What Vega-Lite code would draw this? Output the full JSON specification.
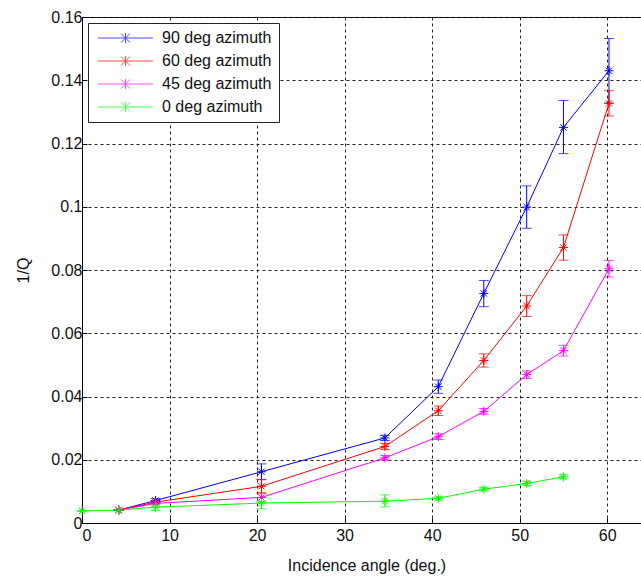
{
  "$schema": "https://vega.github.io/schema/vega-lite/v6.json",
  "autosize": {"type": "none"},
  "padding": {"left": 82, "top": 17, "right": 0, "bottom": 53},
  "width": 569,
  "height": 506,
  "background": "white",
  "config": {
    "font": "Liberation Sans",
    "view": {"stroke": "black", "strokeWidth": 1},
    "axis": {
      "domainColor": "black",
      "tickColor": "black",
      "labelColor": "#111111",
      "titleColor": "#111111",
      "labelFont": "Liberation Sans",
      "titleFont": "Liberation Sans",
      "labelFontSize": 16,
      "titleFontSize": 16,
      "titleFontWeight": "normal",
      "gridColor": "#222222",
      "gridDash": [3, 3],
      "gridOpacity": 1,
      "tickSize": -5
    }
  },
  "data": {
    "values": [
      {"series": "90 deg azimuth", "angle": 4.2, "q": 0.0041, "lo": 0.0041, "hi": 0.0041},
      {"series": "90 deg azimuth", "angle": 8.4, "q": 0.0071, "lo": 0.0065, "hi": 0.0077},
      {"series": "90 deg azimuth", "angle": 20.5, "q": 0.0162, "lo": 0.0138, "hi": 0.0187},
      {"series": "90 deg azimuth", "angle": 34.6, "q": 0.0269, "lo": 0.0261, "hi": 0.0277},
      {"series": "90 deg azimuth", "angle": 40.7, "q": 0.0431, "lo": 0.0410, "hi": 0.0452},
      {"series": "90 deg azimuth", "angle": 45.9, "q": 0.0726, "lo": 0.0684, "hi": 0.0767},
      {"series": "90 deg azimuth", "angle": 50.8, "q": 0.0999, "lo": 0.0932, "hi": 0.1066},
      {"series": "90 deg azimuth", "angle": 55.0, "q": 0.1251, "lo": 0.1168, "hi": 0.1336},
      {"series": "90 deg azimuth", "angle": 60.2, "q": 0.1430, "lo": 0.1328, "hi": 0.1532},
      {"series": "60 deg azimuth", "angle": 4.2, "q": 0.0041, "lo": 0.0041, "hi": 0.0041},
      {"series": "60 deg azimuth", "angle": 8.4, "q": 0.0066, "lo": 0.0061, "hi": 0.0071},
      {"series": "60 deg azimuth", "angle": 20.5, "q": 0.0116, "lo": 0.0096, "hi": 0.0137},
      {"series": "60 deg azimuth", "angle": 34.6, "q": 0.0242, "lo": 0.0232, "hi": 0.0252},
      {"series": "60 deg azimuth", "angle": 40.7, "q": 0.0355, "lo": 0.0340, "hi": 0.0370},
      {"series": "60 deg azimuth", "angle": 45.9, "q": 0.0514, "lo": 0.0493, "hi": 0.0535},
      {"series": "60 deg azimuth", "angle": 50.8, "q": 0.0686, "lo": 0.0653, "hi": 0.0719},
      {"series": "60 deg azimuth", "angle": 55.0, "q": 0.0871, "lo": 0.0831, "hi": 0.0911},
      {"series": "60 deg azimuth", "angle": 60.2, "q": 0.1327, "lo": 0.1287, "hi": 0.1367},
      {"series": "45 deg azimuth", "angle": 4.2, "q": 0.0041, "lo": 0.0041, "hi": 0.0041},
      {"series": "45 deg azimuth", "angle": 8.4, "q": 0.0062, "lo": 0.0057, "hi": 0.0067},
      {"series": "45 deg azimuth", "angle": 20.5, "q": 0.0081, "lo": 0.0069, "hi": 0.0093},
      {"series": "45 deg azimuth", "angle": 34.6, "q": 0.0206, "lo": 0.0199, "hi": 0.0213},
      {"series": "45 deg azimuth", "angle": 40.7, "q": 0.0273, "lo": 0.0264, "hi": 0.0282},
      {"series": "45 deg azimuth", "angle": 45.9, "q": 0.0353, "lo": 0.0344, "hi": 0.0362},
      {"series": "45 deg azimuth", "angle": 50.8, "q": 0.0469, "lo": 0.0457, "hi": 0.0481},
      {"series": "45 deg azimuth", "angle": 55.0, "q": 0.0545, "lo": 0.0528, "hi": 0.0562},
      {"series": "45 deg azimuth", "angle": 60.2, "q": 0.0804, "lo": 0.0778, "hi": 0.0830},
      {"series": "0 deg azimuth", "angle": 0.0, "q": 0.0038, "lo": 0.0038, "hi": 0.0038},
      {"series": "0 deg azimuth", "angle": 4.2, "q": 0.0041, "lo": 0.0041, "hi": 0.0041},
      {"series": "0 deg azimuth", "angle": 8.4, "q": 0.0050, "lo": 0.0040, "hi": 0.0060},
      {"series": "0 deg azimuth", "angle": 20.5, "q": 0.0063, "lo": 0.0045, "hi": 0.0080},
      {"series": "0 deg azimuth", "angle": 34.6, "q": 0.0069, "lo": 0.0051, "hi": 0.0089},
      {"series": "0 deg azimuth", "angle": 40.7, "q": 0.0078, "lo": 0.0073, "hi": 0.0083},
      {"series": "0 deg azimuth", "angle": 45.9, "q": 0.0107, "lo": 0.0102, "hi": 0.0112},
      {"series": "0 deg azimuth", "angle": 50.8, "q": 0.0125, "lo": 0.0118, "hi": 0.0132},
      {"series": "0 deg azimuth", "angle": 55.0, "q": 0.0146, "lo": 0.0140, "hi": 0.0152}
    ]
  },
  "encoding": {
    "x": {
      "field": "angle",
      "type": "quantitative",
      "scale": {"domain": [0, 65], "nice": false},
      "axis": {
        "values": [0, 10, 20, 30, 40, 50, 60],
        "title": "Incidence angle (deg.)",
        "labelPadding": 9,
        "titlePadding": 14
      }
    },
    "y": {
      "field": "q",
      "type": "quantitative",
      "scale": {"domain": [0, 0.16], "nice": false},
      "axis": {
        "values": [0, 0.02, 0.04, 0.06, 0.08, 0.1, 0.12, 0.14, 0.16],
        "format": "~g",
        "title": "1/Q",
        "labelPadding": 5,
        "titlePadding": 19
      }
    },
    "color": {
      "field": "series",
      "type": "nominal",
      "scale": {
        "domain": ["90 deg azimuth", "60 deg azimuth", "45 deg azimuth", "0 deg azimuth"],
        "range": ["#0000ff", "#ff0000", "#ff00ff", "#00ff00"]
      },
      "legend": {
        "title": null,
        "orient": "none",
        "legendX": 6,
        "legendY": 6,
        "direction": "vertical",
        "strokeColor": "#222222",
        "fillColor": "white",
        "padding": 7,
        "rowPadding": 7,
        "labelFont": "Liberation Sans",
        "labelFontSize": 16,
        "labelColor": "#111111",
        "labelOffset": 51,
        "symbolSize": 100,
        "symbolStrokeWidth": 1,
        "symbolFillColor": "transparent",
        "symbolType": "M-1,0L10,0M3.6,-0.9L5.4,0.9M3.6,0.9L5.4,-0.9M4.5,-1L4.5,1"
      }
    }
  },
  "layer": [
    {
      "mark": {"type": "line", "strokeWidth": 1},
      "encoding": {"detail": {"field": "series"}, "order": {"field": "angle"}}
    },
    {
      "mark": {"type": "rule", "strokeWidth": 1},
      "encoding": {
        "y": {"field": "lo", "type": "quantitative"},
        "y2": {"field": "hi"}
      }
    },
    {
      "mark": {"type": "tick", "orient": "horizontal", "size": 10, "thickness": 1},
      "encoding": {"y": {"field": "lo", "type": "quantitative"}}
    },
    {
      "mark": {"type": "tick", "orient": "horizontal", "size": 10, "thickness": 1},
      "encoding": {"y": {"field": "hi", "type": "quantitative"}}
    },
    {
      "mark": {
        "type": "point",
        "filled": false,
        "size": 81,
        "strokeWidth": 1,
        "opacity": 1,
        "shape": "M-1,0L1,0M0,-1L0,1M-0.7,-0.7L0.7,0.7M-0.7,0.7L0.7,-0.7"
      }
    }
  ]
}
